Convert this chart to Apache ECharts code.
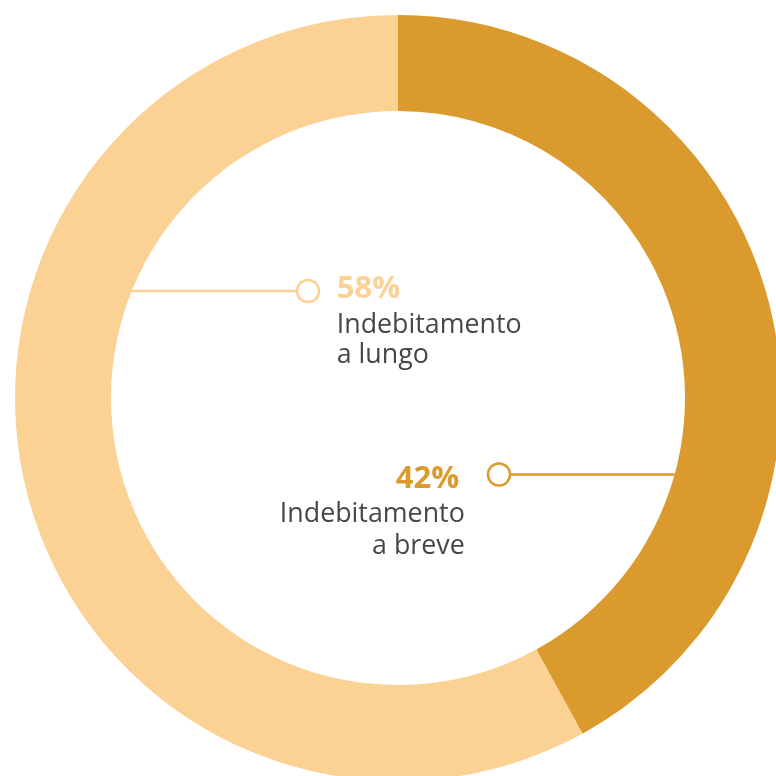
<!DOCTYPE html>
<html>
<head>
<meta charset="utf-8">
<style>
  html, body { margin: 0; padding: 0; background: #ffffff; }
  #chart { width: 776px; height: 776px; }
</style>
<script src="https://cdn.jsdelivr.net/npm/echarts@6/dist/echarts.min.js"></script>
</head>
<body>
<div id="chart"></div>
<script>
// ---- data ----
const categories = ['Indebitamento\na breve', 'Indebitamento\na lungo'];
const values = [42, 58];
const colors = ['#DB9A2E', '#FBD294'];

// ---- layout (label anchor = centre of the small circle) ----
const center = [398, 398];
const radii = [287, 383];
const dotR = 9.75;
// per-label layout: anchor of the circle, top of the text block, line heights, circle alignment in 1st line
const anchors = [
  { x: 499, y: 474.5, side: 'right', top: 464.75, lh: [28, 42.9, 22.3], dotVA: 'top' },
  { x: 308, y: 291, side: 'left', top: 276.75, lh: [24, 50.1, 9.9], dotVA: 'bottom' }
];
const textColor = '#474747';
const fontFamily = '"Open Sans", "Noto Sans", sans-serif';

const chart = echarts.init(document.getElementById('chart'), null, { renderer: 'canvas' });

function richFor(i) {
  const a = anchors[i];
  const left = a.side === 'left';
  return {
    pct: { fontSize: 31, fontWeight: 'bold', color: colors[i], lineHeight: a.lh[0], fontFamily: fontFamily,
           padding: left ? [0, 0, 0, 19] : [0, 30, 0, 0] },
    dot: { width: dotR * 2, height: dotR * 2, borderRadius: dotR + 2, borderWidth: 2.5,
           borderColor: colors[i], backgroundColor: '#ffffff', verticalAlign: a.dotVA },
    n1: { fontSize: 26.8, color: textColor, lineHeight: a.lh[1], fontFamily: fontFamily,
          padding: left ? [0, 0, 0, 38.5] : [0, 44, 0, 0] },
    n2: { fontSize: 26.8, color: textColor, lineHeight: a.lh[2], fontFamily: fontFamily,
          padding: left ? [0, 0, 0, 38.5] : [0, 44, 0, 0] }
  };
}

const data = values.map(function (v, i) {
  const nameLines = categories[i].split('\n').map(function (s, k) { return '{n' + (k + 1) + '|' + s + '}'; }).join('\n');
  const first = anchors[i].side === 'left' ? '{dot|}{pct|' + v + '%}' : '{pct|' + v + '%}{dot|}';
  return {
    name: categories[i],
    value: v,
    itemStyle: { color: colors[i] },
    label: {
      formatter: first + '\n' + nameLines,
      rich: richFor(i)
    },
    labelLine: { lineStyle: { color: colors[i], width: 2.5 } }
  };
});

chart.setOption({
  animation: false,
  series: [{
    type: 'pie',
    center: center,
    radius: radii,
    startAngle: 90,
    clockwise: true,
    avoidLabelOverlap: false,
    silent: true,
    label: { show: true, position: 'outside' },
    labelLine: { show: true, smooth: false },
    labelLayout: function (params) {
      const a = anchors[params.dataIndex];
      const dy = a.y - center[1];
      const dx = Math.sqrt(radii[0] * radii[0] - dy * dy);
      if (a.side === 'left') {
        return {
          x: a.x - dotR, y: a.top, align: 'left', verticalAlign: 'top',
          labelLinePoints: [[center[0] - dx, a.y], [a.x - dotR - 1, a.y], [a.x - dotR - 1, a.y]]
        };
      }
      return {
        x: a.x + dotR, y: a.top, align: 'right', verticalAlign: 'top',
        labelLinePoints: [[center[0] + dx, a.y], [a.x + dotR + 1, a.y], [a.x + dotR + 1, a.y]]
      };
    },
    data: data
  }]
});
</script>
</body>
</html>
